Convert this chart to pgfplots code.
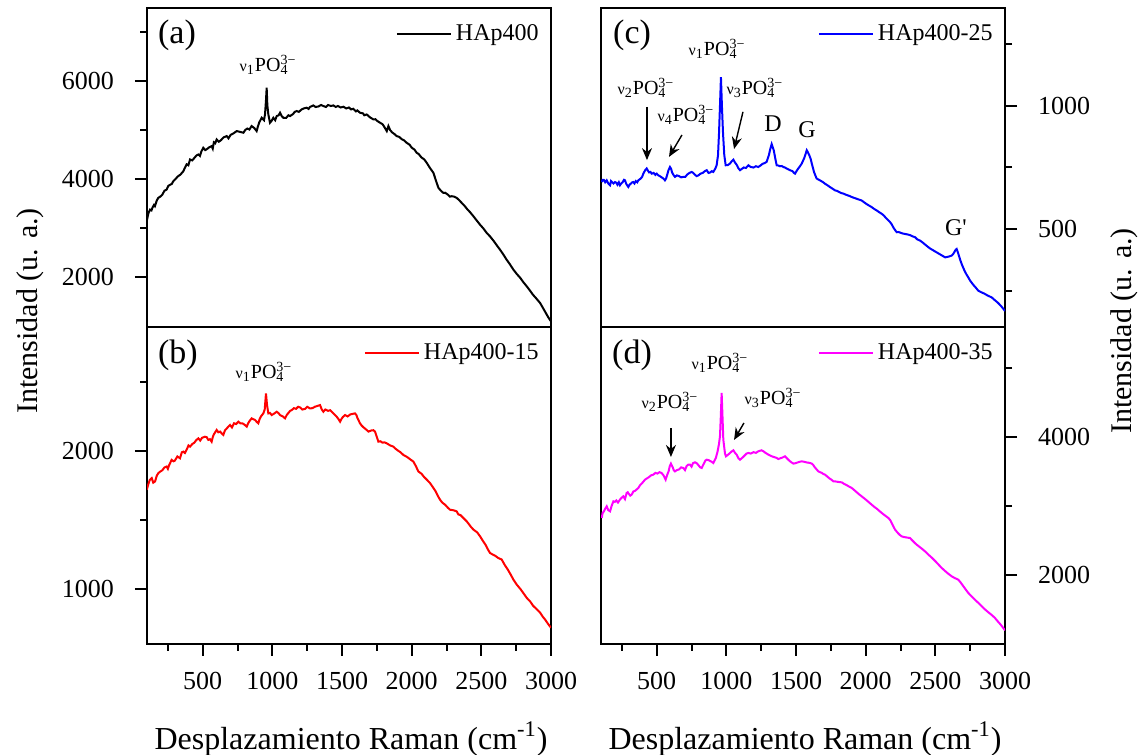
\documentclass[border=0pt]{standalone}
\usepackage{pgfplots}
\pgfplotsset{compat=1.18}
\usepackage{fontspec}
\setmainfont{Liberation Serif}
\usetikzlibrary{arrows.meta}
\newcommand{\po}{PO\rlap{\textsubscript{4}}\textsuperscript{3−}}
\newcommand{\vnu}[1]{{\footnotesize ν}\textsubscript{#1}}
\definecolor{cmag}{RGB}{255,0,255}
\pgfplotsset{
  panel/.style={
    scale only axis, width=202pt, anchor=south west,
    xmin=100, xmax=3000,
    axis line style={line width=1pt},
    every tick/.style={line width=1pt, black},
    major tick length=6pt, minor tick length=3.5pt,
    tick align=outside,
    /pgf/number format/assume math mode=true,
    /pgf/number format/1000 sep={},
    tick label style={font=\fontsize{13}{15}\selectfont},
    legend style={draw=none, fill=none, at={(rel axis cs:1,1)}, anchor=north east,
      xshift=-3pt, yshift=-5pt, font=\fontsize{12}{14}\selectfont, inner sep=1pt},
    legend image code/.code={\draw[#1, line width=1pt] (0pt,0pt) -- (27pt,0pt);},
    clip=true,
  },
  toppanel/.style={xtick=\empty, minor xtick={}},
  botpanel/.style={xtick={500,1000,...,3000}, minor xtick={250,750,...,2750},
    xtick pos=bottom, xticklabel style={yshift=-4.5pt}},
  leftpanel/.style={ytick pos=left, yticklabel style={xshift=-7pt}},
  rightpanel/.style={ytick pos=right, yticklabel style={xshift=7pt}},
}
\begin{document}
\begin{tikzpicture}
\useasboundingbox (0,0) rectangle (570.5pt,377.5pt);
% (a)
\begin{axis}[panel, toppanel, leftpanel, at={(73.5pt,214pt)}, height=159.5pt,
  ymin=980, ymax=7490, ytick={2000,4000,6000}, minor ytick={3000,5000,7000}]
\addplot[black, line width=1pt] coordinates {
(98,3138)(110,3300)(122,3376)(132,3360)(140,3420)(150,3470)(157,3445)(170,3560)(181,3615)(195,3640)(210,3680)(225,3760)(241,3785)(253,3860)(265,3880)(278,3900)(289,3956)(305,4000)(320,4050)(340,4090)(361,4160)(372,4230)(385,4300)(397,4280)(409,4399)(425,4380)(440,4430)(455,4480)(469,4500)(480,4470)(490,4560)(504,4637)(518,4590)(530,4610)(548,4650)(564,4671)(572,4620)(580,4750)(590,4730)(600,4807)(615,4760)(630,4790)(650,4850)(672,4876)(685,4830)(700,4900)(720,4930)(744,4978)(770,4960)(792,4944)(805,5000)(820,5030)(835,5010)(851,5080)(870,5040)(887,4978)(895,5060)(905,5150)(923,5250)(940,5200)(947,5318)(954,5600)(959,5863)(964,5500)(971,5318)(983,5148)(995,5190)(1007,5250)(1020,5200)(1031,5284)(1045,5300)(1055,5352)(1068,5280)(1079,5250)(1100,5250)(1115,5300)(1127,5284)(1150,5330)(1160,5370)(1175,5387)(1190,5370)(1210,5420)(1225,5440)(1246,5455)(1260,5430)(1270,5470)(1294,5502)(1310,5470)(1330,5480)(1350,5510)(1366,5489)(1385,5470)(1400,5510)(1420,5490)(1438,5502)(1455,5470)(1470,5490)(1490,5460)(1510,5475)(1530,5440)(1550,5460)(1565,5420)(1581,5434)(1600,5380)(1610,5400)(1629,5352)(1650,5340)(1660,5300)(1677,5318)(1700,5260)(1725,5216)(1740,5220)(1750,5190)(1773,5148)(1790,5120)(1800,5080)(1821,4978)(1833,5080)(1845,5000)(1860,4950)(1875,4920)(1892,4876)(1910,4860)(1930,4810)(1945,4790)(1964,4739)(1985,4700)(2000,4640)(2020,4600)(2036,4535)(2050,4510)(2070,4440)(2090,4400)(2108,4330)(2130,4230)(2156,4126)(2175,3960)(2192,3819)(2210,3760)(2227,3717)(2240,3720)(2260,3680)(2275,3640)(2287,3649)(2305,3640)(2323,3615)(2340,3570)(2359,3513)(2380,3450)(2400,3380)(2420,3320)(2443,3240)(2465,3160)(2490,3070)(2515,2990)(2539,2899)(2565,2820)(2590,2730)(2610,2650)(2634,2559)(2660,2450)(2680,2360)(2705,2260)(2730,2150)(2755,2060)(2780,1980)(2800,1900)(2826,1809)(2850,1720)(2870,1640)(2895,1560)(2922,1469)(2940,1380)(2960,1280)(2980,1180)(3000,1094)};
\addlegendentry{HAp400}
\node[font=\fontsize{17}{17}\selectfont] at (axis cs:315,6939) {(a)};
\node[font=\fontsize{10}{12}\selectfont] at (axis cs:969,6327) {\vnu{1}\po};
\end{axis}
% (b)
\begin{axis}[panel, botpanel, leftpanel, at={(73.5pt,55.5pt)}, height=158.5pt,
  ymin=601, ymax=2898, ytick={1000,2000}, minor ytick={1500,2500}]
\addplot[red, line width=1pt] coordinates {
(98,1718)(110,1760)(120,1790)(134,1803)(145,1770)(158,1779)(170,1820)(181,1839)(195,1850)(210,1860)(225,1880)(241,1887)(250,1870)(260,1900)(277,1935)(290,1925)(300,1930)(318,1960)(337,1947)(350,1990)(361,1995)(372,1985)(385,2010)(398,2040)(409,2031)(425,2050)(440,2060)(455,2080)(469,2091)(482,2075)(495,2095)(516,2103)(528,2100)(540,2080)(552,2085)(564,2067)(572,2100)(580,2120)(600,2152)(612,2135)(625,2140)(638,2125)(648,2116)(660,2150)(670,2160)(683,2175)(696,2188)(710,2170)(725,2200)(740,2195)(756,2212)(770,2200)(785,2200)(800,2190)(816,2176)(826,2200)(835,2215)(851,2236)(862,2230)(875,2225)(888,2210)(899,2200)(908,2230)(918,2250)(935,2272)(945,2300)(954,2416)(962,2330)(971,2272)(983,2275)(995,2260)(1012,2270)(1031,2284)(1043,2275)(1055,2260)(1075,2250)(1091,2236)(1103,2260)(1115,2275)(1127,2290)(1139,2296)(1155,2310)(1170,2305)(1185,2320)(1199,2315)(1215,2300)(1235,2305)(1250,2320)(1270,2308)(1288,2310)(1305,2320)(1320,2325)(1342,2332)(1355,2300)(1366,2284)(1380,2300)(1400,2290)(1415,2295)(1426,2284)(1445,2265)(1460,2250)(1475,2230)(1486,2212)(1495,2230)(1505,2245)(1522,2260)(1540,2250)(1560,2265)(1575,2268)(1593,2272)(1603,2260)(1610,2240)(1629,2200)(1640,2185)(1655,2170)(1677,2152)(1690,2140)(1710,2148)(1725,2150)(1737,2140)(1750,2100)(1761,2067)(1775,2070)(1790,2060)(1805,2062)(1821,2055)(1845,2040)(1869,2031)(1885,2015)(1905,2000)(1920,1990)(1940,1971)(1960,1960)(1975,1950)(1995,1935)(2012,1923)(2030,1890)(2048,1851)(2070,1835)(2090,1810)(2110,1790)(2132,1767)(2150,1740)(2170,1710)(2190,1670)(2204,1646)(2220,1625)(2240,1610)(2258,1590)(2275,1574)(2300,1570)(2323,1562)(2335,1540)(2350,1535)(2365,1520)(2383,1502)(2395,1490)(2410,1470)(2425,1450)(2443,1430)(2470,1410)(2491,1381)(2510,1350)(2530,1320)(2545,1290)(2562,1261)(2580,1250)(2600,1240)(2620,1225)(2646,1213)(2670,1170)(2690,1140)(2710,1105)(2730,1068)(2755,1030)(2780,1000)(2805,965)(2826,935)(2850,910)(2870,880)(2895,855)(2922,828)(2940,800)(2960,775)(2980,745)(3000,719)};
\addlegendentry{HAp400-15}
\node[font=\fontsize{17}{17}\selectfont] at (axis cs:322,2696) {(b)};
\node[font=\fontsize{10}{12}\selectfont] at (axis cs:940,2572) {\vnu{1}\po};
\end{axis}
% (c)
\begin{axis}[panel, toppanel, rightpanel, at={(300.5pt,214pt)}, height=159.5pt,
  ymin=102, ymax=1398, ytick={500,1000}, minor ytick={250,750,1250}]
\addplot[blue, line width=1pt] coordinates {
(105,691)(112,700)(120,700)(130,690)(141,698)(152,685)(165,678)(172,695)(180,690)(190,685)(200,691)(210,688)(218,680)(228,690)(236,678)(245,685)(255,690)(265,700)(272,698)(280,685)(285,680)(296,671)(305,680)(315,685)(325,690)(332,691)(340,685)(350,695)(360,690)(368,698)(385,705)(395,712)(404,725)(418,740)(428,746)(436,738)(445,730)(455,732)(464,725)(478,728)(490,720)(500,725)(512,718)(522,715)(535,710)(548,705)(559,698)(567,705)(575,720)(585,740)(595,752)(603,745)(610,730)(620,720)(631,712)(645,718)(660,715)(675,710)(691,712)(705,712)(720,722)(735,728)(751,732)(762,728)(775,720)(787,715)(799,718)(815,725)(830,728)(845,735)(859,739)(872,728)(885,730)(895,735)(906,732)(920,745)(930,759)(940,800)(947,888)(954,1000)(961,1117)(968,1000)(976,888)(985,800)(995,759)(1010,760)(1026,766)(1038,775)(1050,782)(1062,770)(1075,760)(1085,748)(1098,739)(1110,744)(1125,750)(1140,748)(1158,759)(1175,752)(1195,750)(1212,755)(1229,752)(1245,758)(1260,765)(1275,768)(1289,773)(1305,800)(1315,825)(1325,845)(1340,820)(1350,790)(1361,759)(1373,758)(1385,755)(1398,756)(1409,752)(1420,750)(1435,745)(1446,742)(1457,739)(1475,735)(1485,728)(1493,725)(1503,735)(1515,745)(1528,755)(1541,766)(1560,790)(1577,820)(1585,812)(1595,800)(1605,785)(1613,766)(1630,730)(1648,705)(1665,700)(1680,695)(1695,690)(1708,684)(1725,678)(1745,670)(1762,664)(1780,657)(1795,655)(1810,650)(1825,646)(1840,644)(1855,640)(1870,637)(1885,634)(1900,630)(1915,627)(1935,623)(1950,620)(1971,616)(1990,608)(2005,602)(2025,595)(2043,589)(2060,582)(2080,575)(2098,568)(2115,562)(2130,555)(2145,545)(2160,537)(2175,528)(2188,518)(2200,505)(2212,495)(2223,487)(2235,488)(2250,485)(2265,482)(2282,480)(2300,478)(2320,475)(2338,470)(2354,467)(2370,458)(2390,453)(2405,447)(2420,440)(2435,433)(2450,426)(2465,420)(2480,415)(2495,410)(2510,405)(2525,400)(2540,395)(2555,390)(2570,385)(2582,386)(2595,388)(2607,390)(2617,392)(2627,398)(2635,405)(2645,415)(2653,419)(2662,405)(2670,390)(2680,372)(2689,358)(2700,343)(2710,330)(2723,316)(2737,303)(2750,290)(2770,275)(2790,262)(2809,249)(2830,243)(2850,238)(2875,230)(2905,222)(2925,212)(2950,200)(2975,185)(3000,167)};
\addlegendentry{HAp400-25}
\node[font=\fontsize{17}{17}\selectfont] at (axis cs:323,1285) {(c)};
\node[font=\fontsize{10}{12}\selectfont] at (axis cs:933,1232) {\vnu{1}\po};
\node[font=\fontsize{10}{12}\selectfont] at (axis cs:423,1073) {\vnu{2}\po};
\node[font=\fontsize{10}{12}\selectfont] at (axis cs:710,963) {\vnu{4}\po};
\node[font=\fontsize{10}{12}\selectfont] at (axis cs:1205,1073) {\vnu{3}\po};
\node[font=\fontsize{12}{12}\selectfont] at (axis cs:1335,927) {D};
\node[font=\fontsize{12}{12}\selectfont] at (axis cs:1579,902) {G};
\node[font=\fontsize{12}{12}\selectfont] at (axis cs:2648,504) {G\textquotesingle};
\draw[-{Stealth[length=6pt,width=5pt]}, line width=0.7pt] (axis cs:430,996) -- (axis cs:430,780);
\draw[-{Stealth[length=6pt,width=5pt]}, line width=0.7pt] (axis cs:681,882) -- (axis cs:588,793);
\draw[-{Stealth[length=6pt,width=5pt]}, line width=0.7pt] (axis cs:1119,976) -- (axis cs:1055,825);
\end{axis}
% (d)
\begin{axis}[panel, botpanel, rightpanel, at={(300.5pt,55.5pt)}, height=158.5pt,
  ymin=1000, ymax=5594, ytick={2000,4000}, minor ytick={3000,5000}]
\addplot[cmag, line width=1pt] coordinates {
(105,2826)(112,2900)(120,2920)(130,2960)(141,2995)(152,2940)(165,2923)(176,3000)(189,3068)(200,3060)(210,3080)(222,3050)(236,3092)(248,3120)(260,3140)(272,3100)(284,3188)(292,3200)(300,3175)(310,3150)(320,3164)(332,3210)(345,3220)(356,3240)(368,3261)(380,3300)(390,3320)(403,3350)(416,3382)(430,3400)(445,3420)(460,3445)(476,3454)(490,3480)(505,3470)(520,3490)(535,3478)(550,3440)(564,3382)(575,3450)(585,3500)(594,3580)(602,3614)(615,3560)(622,3520)(631,3502)(645,3520)(660,3530)(675,3560)(691,3551)(703,3520)(715,3580)(727,3600)(739,3599)(750,3570)(760,3620)(775,3633)(787,3620)(800,3590)(812,3560)(823,3551)(832,3590)(840,3620)(850,3660)(859,3671)(872,3665)(885,3650)(895,3640)(906,3623)(915,3660)(925,3700)(937,3792)(947,3900)(954,4010)(960,4300)(966,4638)(972,4300)(978,3961)(990,3760)(997,3720)(1010,3740)(1026,3768)(1038,3790)(1050,3807)(1062,3770)(1075,3740)(1087,3690)(1098,3671)(1115,3700)(1130,3730)(1145,3760)(1158,3768)(1175,3760)(1195,3780)(1212,3770)(1229,3792)(1240,3800)(1253,3807)(1268,3790)(1280,3770)(1290,3760)(1301,3744)(1320,3725)(1340,3710)(1357,3700)(1373,3681)(1385,3690)(1400,3700)(1410,3710)(1421,3720)(1435,3690)(1450,3660)(1465,3635)(1481,3614)(1495,3620)(1510,3630)(1525,3640)(1541,3647)(1560,3640)(1580,3630)(1597,3625)(1613,3614)(1625,3590)(1635,3560)(1648,3530)(1660,3502)(1672,3490)(1685,3480)(1695,3465)(1708,3454)(1725,3425)(1740,3400)(1755,3380)(1768,3357)(1785,3355)(1800,3350)(1815,3345)(1828,3343)(1845,3320)(1865,3300)(1882,3280)(1900,3261)(1918,3230)(1935,3200)(1952,3170)(1971,3140)(1990,3110)(2008,3080)(2025,3050)(2043,3019)(2060,2990)(2080,2960)(2097,2930)(2115,2899)(2140,2860)(2163,2826)(2178,2790)(2190,2740)(2200,2700)(2211,2657)(2222,2630)(2235,2600)(2245,2580)(2258,2560)(2275,2550)(2290,2545)(2305,2540)(2318,2536)(2330,2510)(2340,2490)(2352,2465)(2366,2440)(2388,2405)(2410,2370)(2430,2335)(2450,2295)(2475,2250)(2500,2200)(2523,2150)(2546,2101)(2563,2070)(2580,2040)(2598,2010)(2617,1981)(2640,1955)(2665,1932)(2682,1890)(2700,1840)(2718,1790)(2737,1739)(2760,1690)(2785,1640)(2810,1593)(2833,1546)(2857,1500)(2880,1460)(2905,1420)(2928,1377)(2945,1335)(2965,1290)(2983,1245)(3000,1198)};
\addlegendentry{HAp400-35}
\node[font=\fontsize{17}{17}\selectfont] at (axis cs:323,5188) {(d)};
\node[font=\fontsize{10}{12}\selectfont] at (axis cs:954,5072) {\vnu{1}\po};
\node[font=\fontsize{10}{12}\selectfont] at (axis cs:595,4507) {\vnu{2}\po};
\node[font=\fontsize{10}{12}\selectfont] at (axis cs:1335,4565) {\vnu{3}\po};
\draw[-{Stealth[length=6pt,width=5pt]}, line width=0.7pt] (axis cs:602,4130) -- (axis cs:602,3710);
\draw[-{Stealth[length=6pt,width=5pt]}, line width=0.7pt] (axis cs:1126,4203) -- (axis cs:1055,3957);
\end{axis}
% axis labels
\node[rotate=90, font=\fontsize{15}{15}\selectfont] at (15pt,222pt) {Intensidad (u. a.)};
\node[rotate=90, font=\fontsize{15}{15}\selectfont] at (562pt,212pt) {Intensidad (u. a.)};
\node[font=\fontsize{16}{16}\selectfont] at (175.5pt,8pt) {Desplazamiento Raman (cm\textsuperscript{-1})};
\node[font=\fontsize{16}{16}\selectfont] at (402.5pt,8pt) {Desplazamiento Raman (cm\textsuperscript{-1})};
\end{tikzpicture}
\end{document}
